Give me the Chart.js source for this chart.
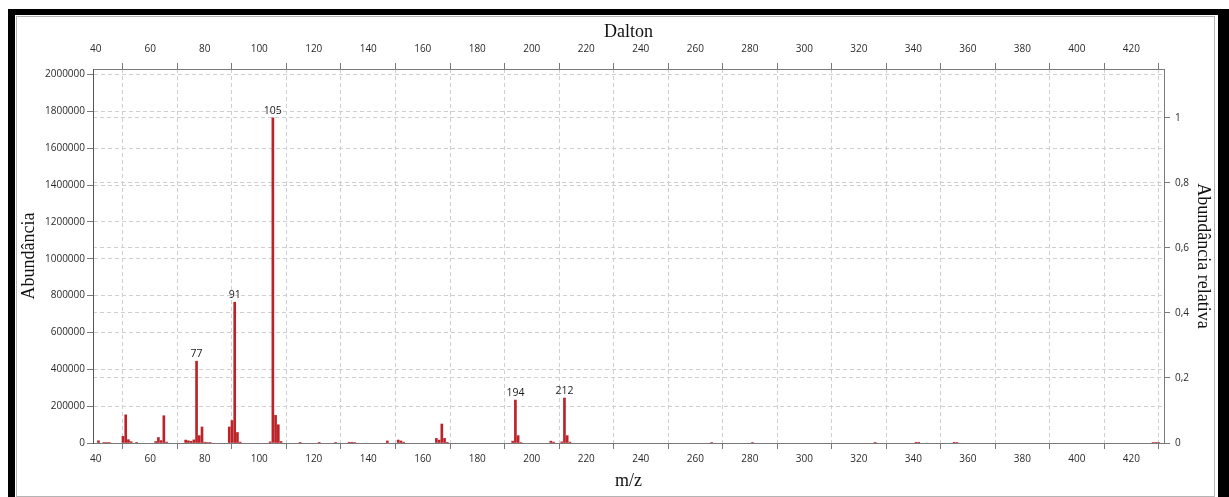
<!DOCTYPE html>
<html>
<head>
<meta charset="utf-8">
<script src="https://cdn.jsdelivr.net/npm/chart.js@4.4.1/dist/chart.umd.min.js"></script>
<style>
    body { margin: 0; background: #fff; width: 1229px; height: 497px; overflow: hidden; position: relative; }
    .frame { position: absolute; left: 8px; top: 9px; width: 1221px; height: 500px; box-sizing: border-box;
             border-left: 7px solid #000; border-top: 6px solid #000; border-right: 11px solid #000; background: #fff; }
    .inner { position: absolute; left: 1px; top: 1px; right: 3px; bottom: 12px; border: 1px solid #b4b4b4; }
    #spectrum { position: absolute; left: 0; top: 0; }
</style>
</head>
<body>
<div class="frame"><div class="inner"></div></div>
<canvas id="spectrum" width="1229" height="497"></canvas>
<script>
// m/z values and absolute abundances
const mzValues = [41,43,44,45,50,51,52,53,55,62,63,64,65,66,73,74,75,76,77,78,79,80,81,82,
    89,90,91,92,93,104,105,106,107,108,115,122,128,133,134,135,147,151,152,153,
    165,166,167,168,169,193,194,195,196,207,208,211,212,213,214,266,281,326,341,342,355,356,428,429,430];
const abundance = [12000,3000,3000,3000,36000,153000,18000,7000,2000,8000,30000,13000,148000,5000,
    16000,12000,9000,17000,444000,40000,87000,4000,3000,3000,
    87000,122000,764000,57000,5000,6000,1765000,150000,99000,8000,2000,2000,2000,4000,4000,3000,
    11000,16000,11000,4000,25000,16000,103000,25000,4000,10000,233000,40000,3000,10000,5000,
    6000,244000,40000,5000,3000,3000,2000,4000,4000,4000,3000,3000,3000,3000];
const labelledPeaks = [77, 91, 105, 194, 212];

const xTicks = [40,60,80,100,120,140,160,180,200,220,240,260,280,300,320,340,360,380,400,420];
const yTicks = [0,200000,400000,600000,800000,1000000,1200000,1400000,1600000,1800000,2000000];
const relTicks = [0,0.2,0.4,0.6,0.8,1];

const xMin = 39, xMax = 432, yMax = 2030000;
const basePeak = Math.max(...abundance);

const tickFont = { family: "'Open Sans', sans-serif", size: 10 };
const titleFont = { family: "'Liberation Serif', 'Times New Roman', serif", size: 18 };
const gridColor = '#cfcfcf';
const axisColor = '#7a7a7a';
const tickText = '#2a2a2a';

const peakLabels = {
    id: 'peakLabels',
    afterDatasetsDraw(chart) {
        const ctx = chart.ctx;
        const meta = chart.getDatasetMeta(0);
        ctx.save();
        ctx.font = "10.5px 'Open Sans', sans-serif";
        ctx.fillStyle = '#1a1a1a';
        ctx.textAlign = 'center';
        ctx.textBaseline = 'bottom';
        mzValues.forEach((mz, i) => {
            if (!labelledPeaks.includes(mz)) return;
            const bar = meta.data[i];
            ctx.fillText(String(mz), bar.x, bar.y - 2);
        });
        ctx.restore();
    }
};

function fixTicks(values) {
    return scale => { scale.ticks = values.map(v => ({ value: v })); };
}

new Chart(document.getElementById('spectrum'), {
    type: 'bar',
    data: {
        datasets: [{
            data: mzValues.map((m, i) => ({ x: m, y: abundance[i] })),
            backgroundColor: '#bb2328',
            borderWidth: 0,
            barThickness: 2,
            xAxisID: 'x', yAxisID: 'y'
        }]
    },
    options: {
        responsive: false, animation: false, devicePixelRatio: 1,
        layout: { padding: { left: 17, right: 15, top: 18, bottom: 4 } },
        plugins: { legend: { display: false }, tooltip: { enabled: false } },
        scales: {
            x: {
                type: 'linear', position: 'bottom', min: xMin, max: xMax, offset: false,
                afterBuildTicks: fixTicks(xTicks),
                afterFit: s => { s.height = 50; },
                grid: { color: gridColor, tickLength: 6, tickColor: axisColor },
                border: { color: axisColor, dash: [4, 3] },
                ticks: { font: tickFont, color: tickText, padding: 4, maxRotation: 0, callback: v => String(v) },
                title: { display: true, text: 'm/z', font: titleFont, color: '#111', padding: { top: 0, bottom: 1 } }
            },
            x2: {
                type: 'linear', position: 'top', min: xMin, max: xMax, offset: false,
                afterBuildTicks: fixTicks(xTicks),
                afterFit: s => { s.height = 51; },
                grid: { drawOnChartArea: false, tickLength: 6, tickColor: axisColor },
                border: { color: axisColor },
                ticks: { font: tickFont, color: tickText, padding: 8, maxRotation: 0, callback: v => String(v) },
                title: { display: true, text: 'Dalton', font: titleFont, color: '#111', padding: { top: 3, bottom: 0 } }
            },
            y: {
                type: 'linear', position: 'left', min: 0, max: yMax,
                afterBuildTicks: fixTicks(yTicks),
                afterFit: s => { s.width = 76; },
                grid: { color: gridColor, tickLength: 6, tickColor: axisColor },
                border: { color: '#555', dash: [4, 3] },
                ticks: { font: tickFont, color: tickText, padding: 2, callback: v => String(v) },
                title: { display: true, text: 'Abundância', font: titleFont, color: '#111', padding: { top: 1, bottom: 0 } }
            },
            y1: {
                type: 'linear', position: 'right', min: 0, max: yMax / basePeak,
                afterBuildTicks: fixTicks(relTicks),
                afterFit: s => { s.width = 50; },
                grid: { color: gridColor, tickLength: 6, tickColor: axisColor },
                border: { color: axisColor, dash: [4, 3] },
                ticks: { font: tickFont, color: tickText, padding: 5, callback: v => String(v).replace('.', ',') },
                title: { display: true, text: 'Abundância relativa', font: titleFont, color: '#111', padding: { top: 0, bottom: 0 } }
            }
        }
    },
    plugins: [peakLabels]
});
</script>
</body>
</html>
